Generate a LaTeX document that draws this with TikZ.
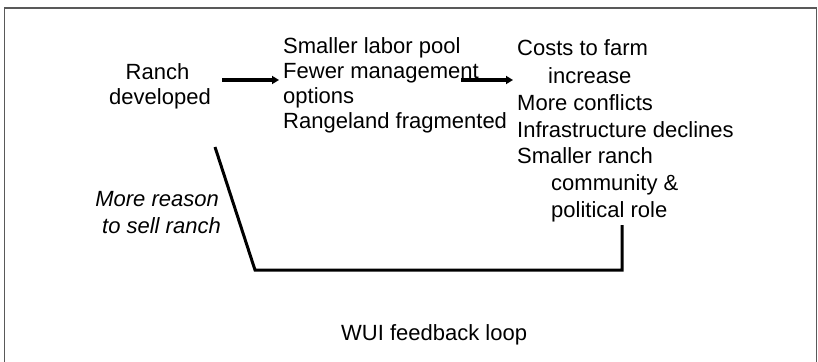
\documentclass[tikz,border=0pt]{standalone}
\usepackage{fontspec}
\setmainfont{Liberation Sans}
\usetikzlibrary{arrows.meta}
\begin{document}
\begin{tikzpicture}[x=1pt,y=-1pt,
  txt/.style={font=\fontsize{22}{26}\selectfont, inner sep=0pt, anchor=base west},
  itxt/.style={font=\fontsize{22}{26}\selectfont\itshape, inner sep=0pt, anchor=base east},
  flow/.style={line width=3.5pt, -{Triangle[length=7pt,width=8pt]}},
  loopline/.style={line width=3pt, line join=miter},
  frame/.style={draw=black!65, line width=1.6pt}]
\useasboundingbox (0,0) rectangle (818,361);
\clip (0,0) rectangle (818,361);
% frame
\draw[frame] (4.5,375) -- (4.5,8) -- (816.5,8) -- (816.5,375);
% left block
\node[txt, anchor=base] (ranchA) at (157.5,79) {Ranch};
\node[txt, anchor=base] (ranchB) at (160,104) {developed};
% middle block
\node[txt] (midA) at (283,53) {Smaller labor pool};
\node[txt] (midB) at (283,78) {Fewer management};
\node[txt] (midC) at (283,103) {options};
\node[txt] (midD) at (283,128) {Rangeland fragmented};
% right block
\node[txt] (rA) at (517,56) {Costs to farm};
\node[txt] (rB) at (548,83) {increase};
\node[txt] (rC) at (517,110) {More conflicts};
\node[txt] (rD) at (517,137) {Infrastructure declines};
\node[txt] (rE) at (517,163) {Smaller ranch};
\node[txt] (rF) at (551,190) {community \&};
\node[txt] (rG) at (551,217) {political role};
% italic label
\node[itxt] (why1) at (219,206) {More reason};
\node[itxt] (why2) at (221,233) {to sell ranch};
% title
\node[txt] (title) at (341,340) {WUI feedback loop};
% arrows
\coordinate (a1s) at (222,80);
\coordinate (a1e) at (279,80);
\coordinate (a2s) at (461,80);
\coordinate (a2e) at (513,80);
\draw[flow] (a1s) -- (a1e);
\draw[flow] (a2s) -- (a2e);
% feedback loop
\coordinate (lTop) at (215,147);
\coordinate (lBL) at (255,270);
\coordinate (lBR) at (622,270);
\coordinate (lRT) at (622,225);
\draw[loopline] (lTop) -- (lBL) -- (lBR) -- (lRT);
\end{tikzpicture}
\end{document}
